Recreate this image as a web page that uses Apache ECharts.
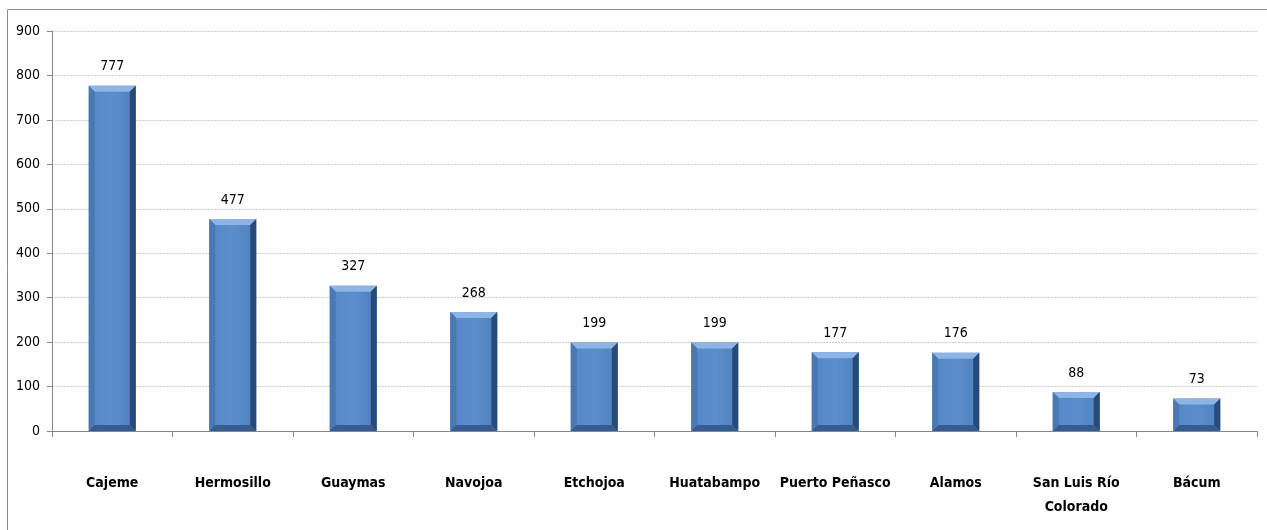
<!DOCTYPE html>
<html>
<head>
<meta charset="utf-8">
<script src="https://cdn.jsdelivr.net/npm/echarts@6/dist/echarts.min.js"></script>
<style>
  html, body { margin: 0; padding: 0; background: #fff; }
  #chart { width: 1267px; height: 530px; }
</style>
</head>
<body>
<div id="chart"></div>
<script>
var categories = ['Cajeme', 'Hermosillo', 'Guaymas', 'Navojoa', 'Etchojoa', 'Huatabampo',
                  'Puerto Peñasco', 'Alamos', 'San Luis Río\nColorado', 'Bácum'];
var values = [777, 477, 327, 268, 199, 199, 177, 176, 88, 73];

var fontFam = '"Liberation Sans Narrow", "Arial Narrow", "DejaVu Sans Condensed", sans-serif';

var chart = echarts.init(document.getElementById('chart'));

// bar drawn with a bevel look (Excel style)
function renderBar(params, api) {
    var idx = api.value(0);
    var val = api.value(1);
    var top = api.coord([idx, val]);
    var base = api.coord([idx, 0]);
    var w = 47;
    var x0 = top[0] - w / 2, x1 = top[0] + w / 2;
    var y0 = top[1], y1 = base[1];
    var b = Math.min(6, (y1 - y0) / 3);
    return {
        type: 'group',
        children: [
            { type: 'rect', shape: { x: x0, y: y0, width: w, height: y1 - y0 },
              style: { fill: new echarts.graphic.LinearGradient(0, 0, 1, 0, [
                  { offset: 0, color: '#5587c6' }, { offset: 0.5, color: '#5c8ecd' },
                  { offset: 1, color: '#4f80bd' }]) } },
            // top bevel
            { type: 'polygon', shape: { points: [[x0, y0], [x1, y0], [x1 - b, y0 + b], [x0 + b, y0 + b]] },
              style: { fill: '#8db4e4' } },
            // left bevel
            { type: 'polygon', shape: { points: [[x0, y0], [x0 + b, y0 + b], [x0 + b, y1 - b], [x0, y1]] },
              style: { fill: '#4a78b2' } },
            // right bevel
            { type: 'polygon', shape: { points: [[x1, y0], [x1, y1], [x1 - b, y1 - b], [x1 - b, y0 + b]] },
              style: { fill: '#284a78' } },
            // bottom bevel
            { type: 'polygon', shape: { points: [[x0, y1], [x1, y1], [x1 - b, y1 - b], [x0 + b, y1 - b]] },
              style: { fill: '#355c90' } },
            { type: 'text', style: { text: String(val), x: top[0], y: y0 - 12, align: 'center',
                verticalAlign: 'bottom', fill: '#000', font: '14px ' + fontFam } }
        ]
    };
}

var option = {
    animation: false,
    backgroundColor: '#fff',
    graphic: [
        { type: 'rect', shape: { x: 7.5, y: 9.5, width: 1270, height: 530 },
          style: { fill: 'none', stroke: '#8c8c8c', lineWidth: 1 }, silent: true }
    ],
    grid: {
        left: 52,
        right: 10,
        top: 31,
        bottom: 99
    },
    xAxis: {
        type: 'category',
        data: categories,
        axisLine: { lineStyle: { color: '#868686', width: 1 } },
        axisTick: { show: true, length: 6, lineStyle: { color: '#868686' } },
        axisLabel: {
            interval: 0,
            margin: 40,
            color: '#000',
            fontSize: 14,
            fontWeight: 'bold',
            fontFamily: fontFam,
            lineHeight: 24
        }
    },
    yAxis: {
        type: 'value',
        min: 0,
        max: 900,
        interval: 100,
        axisLine: { show: true, lineStyle: { color: '#868686', width: 1 } },
        axisTick: { show: true, length: 5, lineStyle: { color: '#868686' } },
        axisLabel: {
            color: '#000',
            fontSize: 14,
            fontFamily: fontFam,
            margin: 12
        },
        splitLine: {
            show: true,
            lineStyle: { color: '#d0d0d0', type: [2, 1], width: 1 }
        }
    },
    series: [
        {
            type: 'custom',
            renderItem: renderBar,
            encode: { x: 0, y: 1 },
            data: values.map(function (v, i) { return [i, v]; })
        }
    ]
};
chart.setOption(option);
</script>
</body>
</html>
